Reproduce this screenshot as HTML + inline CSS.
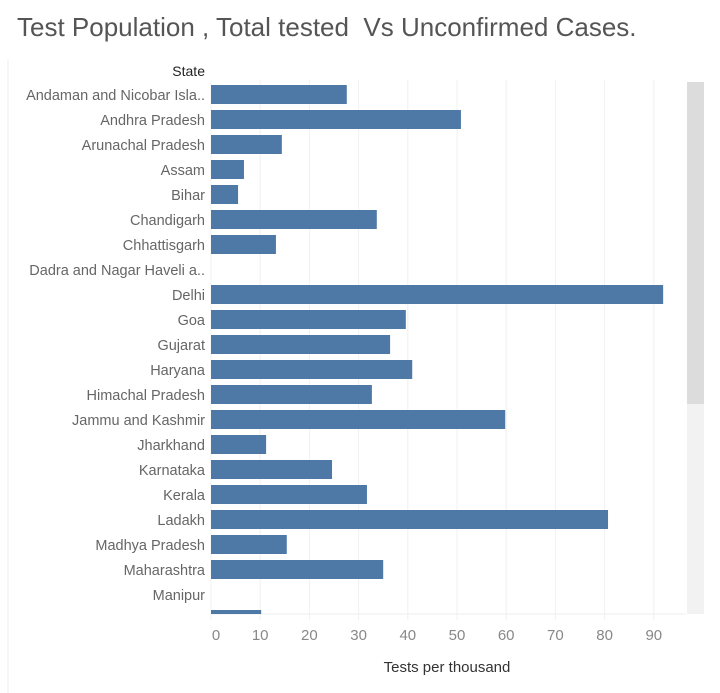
<!DOCTYPE html>
<html><head><meta charset="utf-8"><style>
body{margin:0;width:720px;height:693px;background:#fff;font-family:"Liberation Sans",sans-serif;overflow:hidden;position:relative}
#title{position:absolute;left:17px;top:12px;font-size:26px;color:#555;white-space:nowrap}
svg{position:absolute;left:0;top:0}
</style></head><body>
<div id="title">Test Population , Total tested&nbsp; Vs Unconfirmed Cases.</div>
<svg id="c" width="720" height="693"></svg>
<script>
const states=["Andaman and Nicobar Isla..","Andhra Pradesh","Arunachal Pradesh","Assam","Bihar","Chandigarh","Chhattisgarh","Dadra and Nagar Haveli a..","Delhi","Goa","Gujarat","Haryana","Himachal Pradesh","Jammu and Kashmir","Jharkhand","Karnataka","Kerala","Ladakh","Madhya Pradesh","Maharashtra","Manipur","Meghalaya"];
const testsPerThousand=[27.6,50.8,14.4,6.7,5.5,33.7,13.2,0,91.9,39.6,36.4,40.9,32.7,59.8,11.2,24.6,31.7,80.7,15.4,35,0,10.2];
const ticks=[0,10,20,30,40,50,60,70,80,90];
const NS="http://www.w3.org/2000/svg",svg=document.getElementById('c');
const x=v=>211+v*4.92, y=i=>85+i*25;
function mk(t,a,txt){const e=document.createElementNS(NS,t);for(const k in a)e.setAttribute(k,a[k]);if(txt!=null)e.textContent=txt;svg.appendChild(e);return e;}
const cp=mk('clipPath',{id:'pc'});const r=document.createElementNS(NS,'rect');r.setAttribute('x',0);r.setAttribute('y',80);r.setAttribute('width',690);r.setAttribute('height',534);cp.appendChild(r);
mk('line',{x1:8,y1:60,x2:8,y2:693,stroke:'#eee'});
ticks.forEach(t=>{
const g=mk('line',{x1:x(t),y1:80,x2:x(t),y2:620,stroke:'#f0f0f0'});

const l=mk('text',{x:t===0?216:x(t),y:640,'text-anchor':'middle','font-size':15,fill:'#888'},t);

});
mk('line',{x1:211,y1:614,x2:686,y2:614,stroke:'#eee'});
const h=mk('text',{x:205,y:76,'text-anchor':'end','font-size':14,fill:'#222'},'State');

states.forEach((s,i)=>{
if(i<states.length-1){const t=mk('text',{x:205,y:y(i)+15,'text-anchor':'end','font-size':14.5,fill:'#666'},s);
}
const b=mk('rect',{x:211,y:y(i),width:Math.max(0,x(testsPerThousand[i])-211),height:19,fill:'#4e79a7','clip-path':'url(#pc)'});


});
const tr=mk('rect',{x:687,y:82,width:17,height:532,fill:'#f2f2f2'});

const th=mk('rect',{x:687,y:82,width:17,height:322,fill:'#dcdcdc'});

const xt=mk('text',{x:447,y:672,'text-anchor':'middle','font-size':15,fill:'#333'},'Tests per thousand');

</script>
</body></html>
